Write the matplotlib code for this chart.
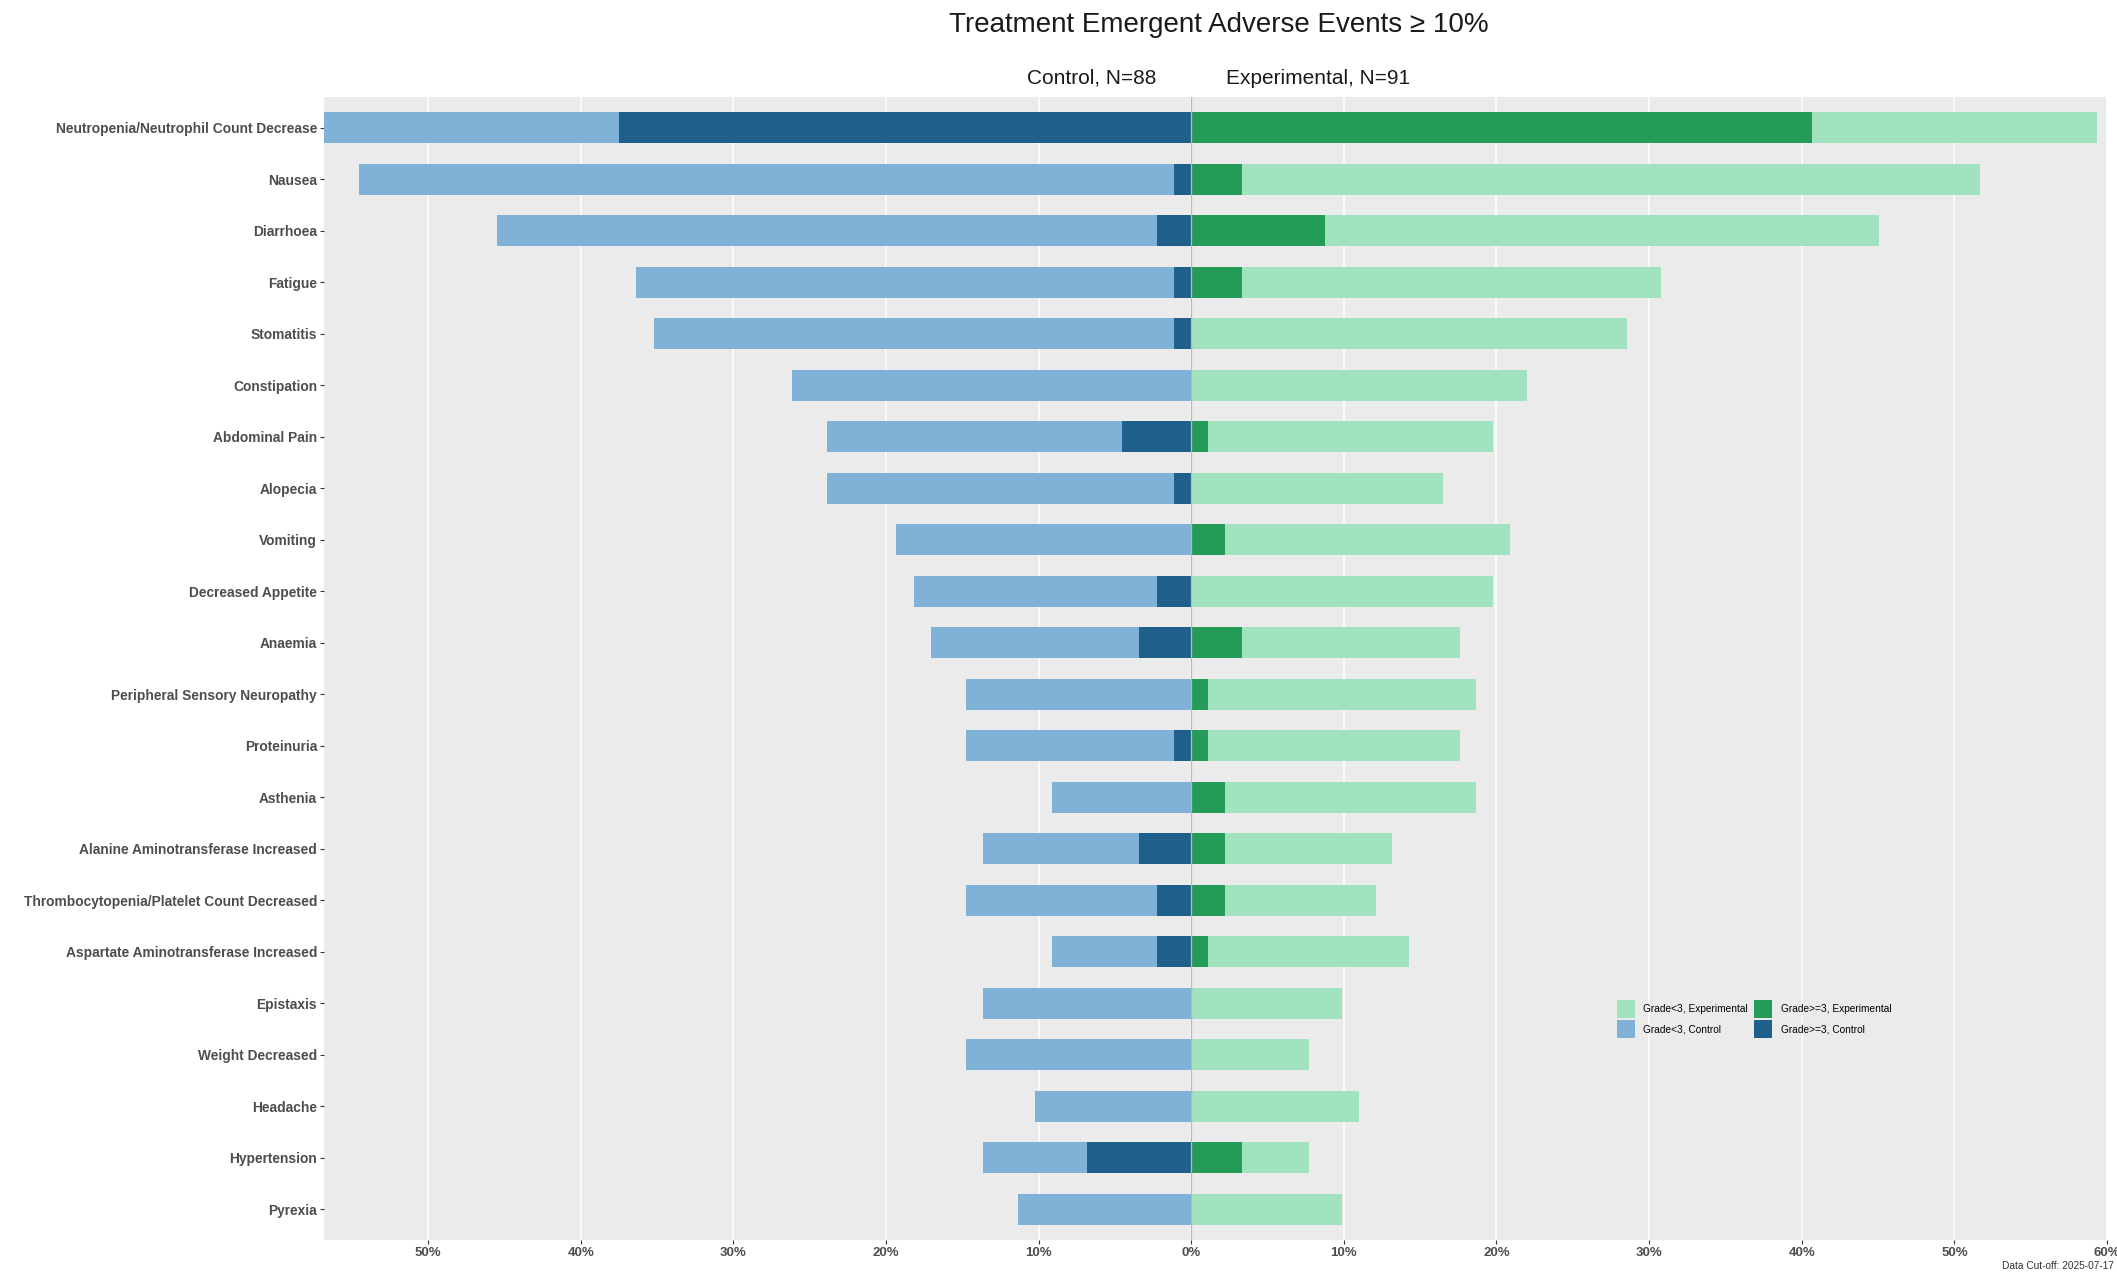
import matplotlib
matplotlib.use("Agg")
import matplotlib.pyplot as plt
from matplotlib.patches import Patch
from matplotlib.transforms import blended_transform_factory
import numpy as np

plt.rcParams["font.family"] = ["Liberation Sans", "DejaVu Sans"]

# Adverse event terms, ordered from top to bottom
events = [
    "Neutropenia/Neutrophil Count Decrease", "Nausea", "Diarrhoea", "Fatigue",
    "Stomatitis", "Constipation", "Abdominal Pain", "Alopecia", "Vomiting",
    "Decreased Appetite", "Anaemia", "Peripheral Sensory Neuropathy",
    "Proteinuria", "Asthenia", "Alanine Aminotransferase Increased",
    "Thrombocytopenia/Platelet Count Decreased",
    "Aspartate Aminotransferase Increased", "Epistaxis", "Weight Decreased",
    "Headache", "Hypertension", "Pyrexia",
]

# Patient counts per arm
n_control = 88
n_experimental = 91

# Subjects with the event (any grade) and with grade >= 3
control_any = [50, 48, 40, 32, 31, 23, 21, 21, 17, 16, 15, 13, 13, 8, 12, 13, 8, 12, 13, 9, 12, 10]
control_g3 = [33, 1, 2, 1, 1, 0, 4, 1, 0, 2, 3, 0, 1, 0, 3, 2, 2, 0, 0, 0, 6, 0]
exper_any = [54, 47, 41, 28, 26, 20, 18, 15, 19, 18, 16, 17, 16, 17, 12, 11, 13, 9, 7, 10, 7, 9]
exper_g3 = [37, 3, 8, 3, 0, 0, 1, 0, 2, 0, 3, 1, 1, 2, 2, 2, 1, 0, 0, 0, 3, 0]

x_ticks = [-50, -40, -30, -20, -10, 0, 10, 20, 30, 40, 50, 60]

title = "Treatment Emergent Adverse Events \u2265 10%"
cutoff_note = "Data Cut-off: 2025-07-17"

c_ctrl_lo, c_ctrl_hi = "#7FB2D6", "#1F5F8B"
c_exp_lo, c_exp_hi = "#A2E3BF", "#249B57"

ctrl_any_pct = np.array(control_any) / n_control * 100
ctrl_g3_pct = np.array(control_g3) / n_control * 100
exp_any_pct = np.array(exper_any) / n_experimental * 100
exp_g3_pct = np.array(exper_g3) / n_experimental * 100

W, H = 2117, 1272
fig = plt.figure(figsize=(W / 100, H / 100), dpi=100)
ax = fig.add_axes([324 / W, 1 - 1240 / H, (2107 - 324) / W, (1240 - 97) / H])
ax.set_facecolor("#EBEBEB")

y = np.arange(len(events))
bh = 0.6
ax.barh(y, -ctrl_any_pct, height=bh, color=c_ctrl_lo, zorder=2)
ax.barh(y, -ctrl_g3_pct, height=bh, color=c_ctrl_hi, zorder=3)
ax.barh(y, exp_any_pct, height=bh, color=c_exp_lo, zorder=2)
ax.barh(y, exp_g3_pct, height=bh, color=c_exp_hi, zorder=3)
ax.axvline(0, color="#B8B8B8", lw=0.9, zorder=4)

ax.set_xlim(-ctrl_any_pct.max(), 60.0)
ax.set_ylim(len(events) - 1 + 0.6, -0.6)

ax.set_xticks(x_ticks)
ax.set_xticklabels([f"{abs(t)}%" for t in x_ticks])
ax.set_yticks(y)
ax.set_yticklabels(events)
for lab in ax.get_xticklabels():
    lab.set_fontweight("bold")
    lab.set_color("#4D4D4D")
    lab.set_fontsize(9.5)
for lab in ax.get_yticklabels():
    lab.set_fontweight("bold")
    lab.set_color("#4D4D4D")
    lab.set_fontsize(9.9)
ax.tick_params(axis="both", length=3, width=0.8, color="#333333")
ax.tick_params(axis="x", pad=2)
ax.tick_params(axis="y", pad=2)

ax.grid(axis="x", color="white", lw=1.1, zorder=0)
ax.grid(axis="y", visible=False)
ax.set_axisbelow(True)
for s in ax.spines.values():
    s.set_visible(False)

fig.text(0.5755, 1 - 25 / H, title, ha="center", va="center", fontsize=20, color="#1A1A1A")
tr = blended_transform_factory(ax.transData, fig.transFigure)
ax.text(-2.3, 1 - 78 / H, f"Control, N={n_control}", ha="right", va="center",
        fontsize=15, color="#1A1A1A", transform=tr)
ax.text(2.3, 1 - 78 / H, f"Experimental, N={n_experimental}", ha="left", va="center",
        fontsize=15, color="#1A1A1A", transform=tr)

handles = [
    Patch(facecolor=c_exp_lo, label="Grade<3, Experimental"),
    Patch(facecolor=c_ctrl_lo, label="Grade<3, Control"),
    Patch(facecolor=c_exp_hi, label="Grade>=3, Experimental"),
    Patch(facecolor=c_ctrl_hi, label="Grade>=3, Control"),
]
fig.legend(handles=handles, ncol=2, loc="upper left",
           bbox_to_anchor=(1617 / W, 1 - 1000 / H), frameon=False,
           fontsize=7.3, handlelength=1.8, handleheight=2.4, labelspacing=0.15,
           handletextpad=0.8, columnspacing=0.6, borderpad=0.0, borderaxespad=0.0)

fig.text(0.9985, 0.001, cutoff_note, ha="right", va="bottom", fontsize=7.3, color="#333333")

fig.savefig("out.png", dpi=100, facecolor="white")
